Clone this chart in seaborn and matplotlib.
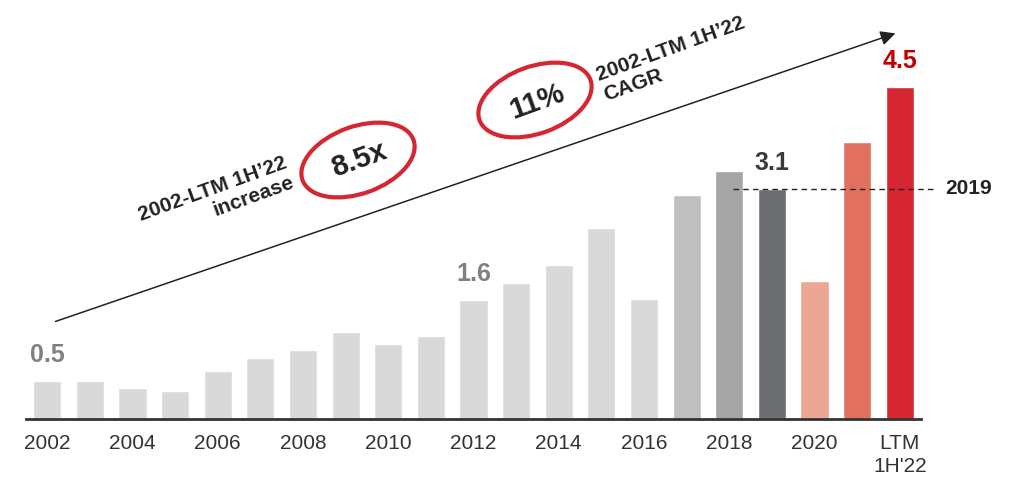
import matplotlib
matplotlib.use("Agg")
import matplotlib.pyplot as plt
import seaborn as sns
import pandas as pd
from matplotlib.patches import Ellipse

# Data
periods = [str(y) for y in range(2002, 2022)] + ["LTM 1H'22"]
values = [0.51, 0.51, 0.42, 0.38, 0.65, 0.83, 0.93, 1.18, 1.02, 1.12,
          1.61, 1.84, 2.09, 2.59, 1.63, 3.04, 3.36, 3.12, 1.87, 3.76, 4.5]
bar_colors = ["#d9d9d9"] * 15 + ["#bfbfbf", "#a6a6a6", "#6d6e71",
                                 "#eba794", "#e2705f", "#d52631"]
tick_labels = [p if i % 2 == 0 else "" for i, p in enumerate(periods)]
tick_labels[-1] = "LTM\n1H'22"

# value callouts: (index, text, color)
callouts = [(0, "0.5", "#808080"), (10, "1.6", "#808080"),
            (17, "3.1", "#3a3a3a"), (20, "4.5", "#c00000")]

df = pd.DataFrame({"period": periods, "value": values})

sns.set_style("white")
plt.rcParams["font.family"] = ["Liberation Sans", "DejaVu Sans"]

fig = plt.figure(figsize=(10.2, 4.79), dpi=100)
ax = fig.add_axes([26 / 1020, 60 / 479, 895 / 1020, 419 / 479])

sns.barplot(data=df, x="period", y="value", hue="period",
            palette=bar_colors, width=0.66, saturation=1, legend=False, ax=ax)

ax.set_xlim(-0.5, 20.5)
ax.set_ylim(0, 5.68)
ax.set_xlabel("")
ax.set_ylabel("")
ax.set_yticks([])
ax.set_xticks(range(len(periods)))
ax.set_xticklabels(tick_labels, fontsize=15, color="#333333", linespacing=1.25)
ax.tick_params(axis="x", length=0, pad=11)
for s in ["top", "right", "left"]:
    ax.spines[s].set_visible(False)
ax.spines["bottom"].set_color("#333333")
ax.spines["bottom"].set_linewidth(2)

for i, txt, col in callouts:
    ax.annotate(txt, (i, values[i]), xytext=(0, 10), textcoords="offset points",
                ha="center", va="bottom", fontsize=18, fontweight="bold", color=col)

# 2019 reference line
ax.plot([16.1, 20.84], [values[17], values[17]], ls=(0, (4, 3)), lw=1,
        color="#222222", clip_on=False)
ax.text(21.08, values[17], "2019", ha="left", va="center", fontsize=15,
        fontweight="bold", color="#222222", clip_on=False)

# growth arrow
ax.annotate("", xy=(19.96, 5.24), xytext=(0.13, 1.31),
            arrowprops=dict(arrowstyle="-|>", color="#222222", lw=1.1,
                            mutation_scale=22))

# ellipses in pixel-inch coordinates
tr = fig.dpi_scale_trans
for cx, cy in [(358, 160), (535, 100)]:
    fig.patches.append(Ellipse((cx / 100, (479 - cy) / 100), 1.18, 0.67, angle=20,
                               fill=False, ec="#d52631", lw=3, transform=tr))

fig.text(3.59 / 10.2, (479 - 160) / 479, "8.5x", ha="center", va="center",
         rotation=20, fontsize=21, fontweight="bold", color="#222222")
fig.text(5.37 / 10.2, (479 - 102) / 479, "11%", ha="center", va="center",
         rotation=20, fontsize=21, fontweight="bold", color="#222222")
fig.text(2.16 / 10.2, (479 - 199) / 479, "2002-LTM 1H\u201922\nincrease",
         ha="center", va="center", multialignment="right", rotation=20,
         fontsize=15, fontweight="bold", color="#222222", linespacing=1.15)
fig.text(6.74 / 10.2, (479 - 59) / 479, "2002-LTM 1H\u201922\nCAGR",
         ha="center", va="center", multialignment="left", rotation=20,
         fontsize=15, fontweight="bold", color="#222222", linespacing=1.15)

fig.savefig("out.png", dpi=100)
